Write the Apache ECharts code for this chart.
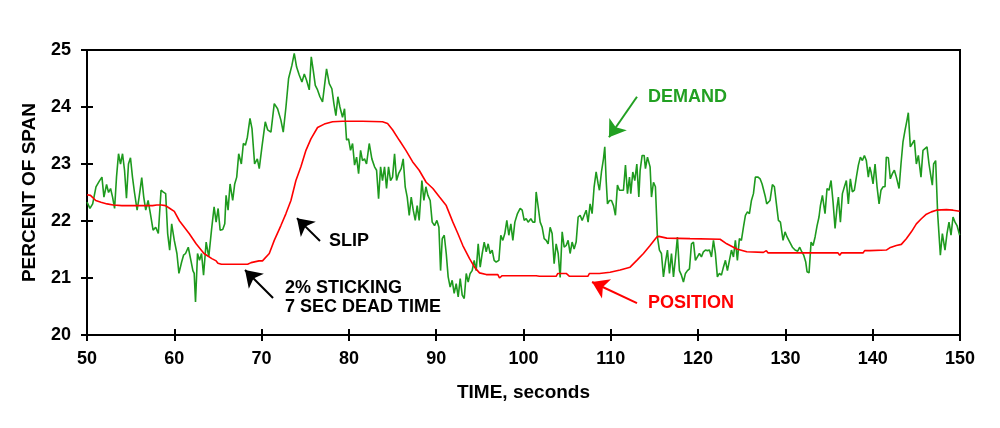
<!DOCTYPE html>
<html>
<head>
<meta charset="utf-8">
<script src="https://cdn.jsdelivr.net/npm/echarts@6/dist/echarts.min.js"></script>
<style>html,body{margin:0;padding:0;background:#fff}#c{width:1000px;height:428px}</style>
</head>
<body>
<div id="c"></div>
<script>
// ---- data ----
var xTicks = [50, 60, 70, 80, 90, 100, 110, 120, 130, 140, 150];
var yTicks = [20, 21, 22, 23, 24, 25];
var xName = 'TIME, seconds';
var yName = 'PERCENT OF SPAN';

// DEMAND: [time s, percent of span]
var demand = [
[50.0,22.33],[50.34,22.22],[50.65,22.3],[51.03,22.6],[51.41,22.7],[51.71,22.77],[51.94,22.42],[52.24,22.64],[52.47,22.5],[52.7,22.57],[52.93,22.42],[53.16,22.22],[53.38,22.77],[53.61,23.18],[53.84,23.0],[54.07,23.18],[54.3,22.89],[54.52,22.4],[54.75,23.0],[54.98,23.11],[55.21,22.77],[55.44,22.5],[55.74,22.19],[55.97,22.42],[56.27,22.76],[56.5,22.42],[56.73,22.19],[57.0,22.36],[57.26,22.13],[57.57,21.84],[57.87,21.89],[58.17,21.78],[58.48,22.54],[58.71,22.51],[59.01,22.48],[59.24,21.78],[59.47,21.49],[59.7,21.95],[60.0,21.66],[60.3,21.43],[60.53,21.08],[60.84,21.28],[61.06,21.4],[61.29,21.43],[61.6,21.54],[61.9,21.31],[62.13,21.13],[62.28,21.08],[62.43,20.58],[62.66,21.43],[62.89,21.31],[63.12,21.43],[63.35,21.05],[63.65,21.63],[63.95,21.37],[64.26,21.84],[64.56,22.25],[64.79,21.98],[65.02,22.22],[65.25,21.84],[65.55,21.85],[65.78,21.95],[65.93,22.45],[66.16,22.19],[66.39,22.65],[66.69,22.36],[66.92,22.65],[67.15,22.77],[67.38,23.18],[67.68,23.0],[67.91,23.36],[68.14,23.33],[68.37,23.47],[68.67,23.8],[68.9,23.62],[69.2,23.0],[69.51,23.09],[69.73,22.92],
[70.04,23.3],[70.42,23.74],[70.69,23.6],[71.07,23.56],[71.45,24.06],[71.83,23.97],[72.21,23.77],[72.48,23.56],[72.79,24.0],[73.09,24.5],[73.47,24.73],[73.74,24.94],[74.01,24.7],[74.31,24.56],[74.62,24.44],[74.89,24.58],[75.15,24.47],[75.46,24.3],[75.69,24.88],[75.92,24.64],[76.15,24.38],[76.41,24.3],[76.68,24.18],[76.98,24.09],[77.44,24.67],[77.75,24.41],[78.05,24.32],[78.28,24.06],[78.51,23.85],[78.74,24.18],[78.97,24.0],[79.27,23.82],[79.5,23.97],[79.73,23.42],[79.96,23.44],[80.19,23.24],[80.42,23.36],[80.65,22.98],[80.88,23.12],[81.11,22.83],[81.34,23.24],[81.56,23.06],[81.79,23.09],[82.02,23.0],[82.33,23.36],[82.63,23.09],[82.94,22.95],[83.17,22.89],[83.4,22.39],[83.63,22.95],[83.85,22.71],[84.08,22.95],[84.31,22.57],[84.54,22.95],[84.77,22.71],[85.0,22.77],[85.23,23.18],[85.46,22.71],[85.69,22.83],[85.99,22.92],[86.22,23.09],[86.45,22.6],[86.68,22.42],[86.91,22.1],[87.14,22.42],[87.37,22.19],[87.6,22.01],[87.82,22.27],[88.05,22.01],[88.36,22.71],[88.59,22.36],[88.82,22.6],[89.05,22.45],
[89.31,22.36],[89.54,21.98],[89.81,21.92],[90.08,22.01],[90.31,21.89],[90.5,21.13],[90.69,21.69],[90.92,21.75],[91.15,21.43],[91.37,21.02],[91.6,20.84],[91.83,20.96],[92.06,20.73],[92.29,20.9],[92.52,20.67],[92.75,20.99],[92.98,20.7],[93.21,20.64],[93.44,21.08],[93.66,20.93],[93.89,21.08],[94.12,21.13],[94.35,21.31],[94.58,21.13],[94.81,21.6],[95.04,21.19],[95.27,21.43],[95.5,21.63],[95.73,21.46],[95.95,21.6],[96.18,21.43],[96.41,21.49],[96.64,21.31],[96.87,21.28],[97.18,21.31],[97.4,21.75],[97.63,21.66],[97.86,21.78],[98.09,22.01],[98.32,21.75],[98.55,21.95],[98.78,21.66],[99.01,21.98],[99.31,22.13],[99.62,22.22],[99.85,22.19],[100.08,22.01],[100.31,22.04],[100.53,21.98],[100.84,22.04],[101.07,21.98],[101.3,21.98],[101.45,22.51],[101.68,22.25],[101.91,21.98],[102.14,21.89],[102.37,21.69],[102.6,21.66],[102.82,21.6],[103.05,21.89],[103.28,21.78],[103.51,21.25],[103.74,21.6],[103.97,21.43],[104.2,21.01],[104.43,21.81],[104.66,21.54],[104.89,21.57],[105.11,21.66],[105.34,21.43],[105.57,21.63],[105.8,21.51],[106.03,21.63],[106.26,22.07],[106.49,22.1],[106.72,22.01],[106.95,22.1],[107.18,22.19],[107.4,21.98],[107.63,22.3],[107.86,22.13],[108.09,22.6],[108.32,22.86],[108.55,22.65],[108.7,22.54],
[108.93,22.86],[109.16,23.09],[109.31,23.3],[109.47,22.71],[109.62,22.3],[109.85,22.36],[110.08,22.36],[110.31,22.27],[110.53,22.1],[110.76,22.63],[110.99,22.54],[111.22,22.54],[111.45,22.54],[111.68,22.98],[111.91,22.48],[112.14,22.77],[112.29,22.48],[112.52,22.86],[112.75,22.71],[112.98,23.0],[113.21,22.42],[113.36,22.89],[113.59,23.15],[113.82,23.15],[113.97,22.92],[114.2,23.12],[114.35,23.15],[114.5,22.95],[114.66,22.42],[114.89,22.68],[115.11,22.6],[115.34,21.72],[115.57,21.49],[115.8,21.43],[116.03,21.02],[116.26,21.28],[116.49,21.49],[116.72,21.08],[116.95,21.43],[117.18,21.02],[117.4,21.34],[117.63,21.72],[117.86,21.13],[118.09,21.05],[118.32,20.93],[118.55,21.08],[118.78,21.13],[119.01,21.16],[119.24,21.6],[119.47,21.63],[119.69,21.31],[119.92,21.37],[120.15,21.43],[120.38,21.37],[120.61,21.46],[120.84,21.49],[121.07,21.48],[121.3,21.49],[121.53,21.37],[121.76,21.66],[121.98,21.43],[122.21,21.02],[122.44,21.08],[122.67,21.05],[122.9,21.19],[123.13,21.31],[123.36,21.13],[123.59,21.31],[123.82,21.49],[124.05,21.37],[124.27,21.66],[124.5,21.31],[124.73,21.69],[124.96,21.66],[125.19,21.89],[125.42,22.1],[125.65,22.16],[125.88,22.13],[126.11,22.36],[126.34,22.48],[126.56,22.77],[126.87,22.77],[127.1,22.74],[127.33,22.65],[127.48,22.65],[127.71,22.42],[127.86,22.3],[128.24,22.36],
[128.51,22.64],[128.74,22.6],[128.97,22.3],[129.2,22.01],[129.43,21.98],[129.58,22.01],[129.73,21.66],[129.96,21.81],[130.19,21.72],[130.5,21.63],[130.8,21.54],[131.11,21.49],[131.41,21.47],[131.64,21.54],[131.87,21.46],[132.1,21.4],[132.33,21.28],[132.48,21.11],[132.71,21.09],[132.94,21.63],[133.17,21.57],[133.4,21.72],[133.63,21.92],[133.85,22.07],[134.01,22.27],[134.24,22.45],[134.54,22.13],[134.77,22.57],[135.0,22.54],[135.23,22.71],[135.46,22.33],[135.69,21.87],[135.92,22.25],[136.07,22.42],[136.3,21.98],[136.53,22.48],[136.76,22.6],[136.98,22.71],[137.21,22.3],[137.44,22.74],[137.67,22.51],[137.9,22.54],[138.13,22.77],[138.36,22.98],[138.59,23.12],[138.82,23.06],[139.05,23.15],[139.27,23.06],[139.5,22.77],[139.66,22.95],[139.81,22.86],[140.04,22.65],[140.27,23.0],[140.5,22.6],[140.73,22.3],[140.95,22.54],[141.18,22.6],[141.41,22.6],[141.56,23.12],[141.79,23.11],[142.02,22.74],[142.25,22.83],[142.48,22.89],[142.71,22.77],[143.02,22.57],[143.24,23.0],[143.47,23.39],[143.7,23.59],[143.93,23.77],[144.08,23.9],[144.31,23.3],[144.54,23.36],[144.77,23.42],[145.0,23.0],[145.23,23.15],[145.53,22.77],[145.76,23.24],[145.99,23.27],[146.22,23.3],[146.45,23.0],[146.68,22.77],[146.83,22.63],[146.98,23.0],[147.21,23.06],[147.44,22.13],[147.75,21.4],[147.98,21.78],[148.28,21.49],[148.51,21.78],[148.74,21.98],[148.97,21.75],[149.2,22.07],[149.43,21.98],[149.66,21.92],[149.96,21.75]
];

// POSITION: [time s, percent of span]
var position = [
[50.0,22.46],[50.4,22.45],[51.0,22.36],[51.6,22.33],[52.3,22.3],[53.0,22.28],[54.0,22.27],[57.5,22.27],[58.0,22.28],[58.5,22.28],[59.0,22.27],[59.5,22.22],[60.0,22.17],[60.6,22.0],[61.7,21.78],[62.5,21.6],[63.4,21.43],[64.3,21.34],[64.8,21.3],[65.0,21.26],[65.4,21.24],[68.4,21.24],[68.8,21.27],[69.7,21.3],[70.1,21.3],[70.88,21.43],[71.45,21.66],[72.21,21.92],[72.79,22.13],[73.36,22.36],[73.93,22.71],[74.5,22.95],[75.08,23.24],[75.65,23.44],[76.41,23.64],[77.18,23.7],[78.13,23.74],[79.27,23.75],[81.56,23.75],[83.85,23.74],[84.43,23.71],[85.0,23.6],[85.76,23.42],[86.53,23.24],[87.29,23.04],[88.05,22.89],[88.85,22.68],[89.62,22.57],[90.38,22.42],[91.15,22.27],[91.91,21.98],[92.48,21.78],[93.05,21.57],[93.82,21.34],[94.39,21.19],[94.96,21.09],[95.73,21.06],[97.06,21.06],[97.25,21.0],[97.56,21.04],[101.45,21.04],[101.64,21.07],[101.83,21.03],[103.74,21.03],[103.93,21.08],[104.89,21.08],[105.27,21.03],[107.37,21.03],[107.56,21.08],[108.7,21.08],[109.92,21.1],[111.07,21.14],[112.21,21.19],[112.98,21.31],[113.74,21.43],[114.5,21.57],[115.27,21.72],[115.5,21.73],[116.41,21.7],[119.08,21.69],[122.52,21.68],[123.28,21.6],[124.43,21.51],[125.57,21.46],[127.48,21.45],[127.82,21.48],[128.02,21.44],[136.03,21.44],[136.22,21.4],[136.41,21.44],[138.89,21.44],[139.08,21.48],[139.27,21.46],[139.66,21.48],[141.56,21.49],[141.95,21.53],[142.71,21.57],[143.28,21.59],[143.85,21.69],[144.43,21.81],[145.0,21.95],[145.57,22.04],[146.15,22.12],[146.72,22.16],[147.29,22.19],[148.44,22.2],[149.2,22.19],[149.96,22.17]
];

// annotations (data coordinates)
var noteTexts  = ['DEMAND', 'POSITION', 'SLIP', '2% STICKING', '7 SEC DEAD TIME'];
var noteAnchor = [[114.26, 24.18], [114.26, 20.56], [77.72, 21.65], [72.68, 20.82], [72.68, 20.49]];
var noteColor  = ['#22a022', '#ff0000', '#000000', '#000000', '#000000'];
var arrowFrom  = [[113.0, 24.18], [113.0, 20.56], [76.69, 21.65], [71.31, 20.65]];
var arrowTo    = [[109.79, 23.47], [107.85, 20.93], [74.05, 22.05], [68.1, 21.14]];
var arrowColor = ['#22a022', '#ff0000', '#000000', '#000000'];

var GREEN = '#1e9a1e', RED = '#ff0000';
var FONT = '"Liberation Sans", Arial, sans-serif';

var chart = echarts.init(document.getElementById('c'), null, {renderer: 'canvas'});

function baseX(inside) {
  return {
    type: 'value', min: xTicks[0], max: xTicks[xTicks.length - 1], interval: 10,
    position: 'bottom',
    axisLine: {show: !inside, onZero: false, lineStyle: {color: '#000', width: 2}},
    axisTick: {show: true, inside: inside, length: 6, lineStyle: {color: '#000', width: 2}},
    axisLabel: inside ? {show: false} : {show: true, color: '#000', fontFamily: FONT, fontWeight: 'bold', fontSize: 18, margin: 15},
    splitLine: {show: false},
    name: inside ? '' : xName, nameLocation: 'middle', nameGap: 48,
    nameTextStyle: {color: '#000', fontFamily: FONT, fontWeight: 'bold', fontSize: 19}
  };
}
function baseY(inside) {
  return {
    type: 'value', min: yTicks[0], max: yTicks[yTicks.length - 1], interval: 1,
    position: 'left',
    axisLine: {show: !inside, onZero: false, lineStyle: {color: '#000', width: 2}},
    axisTick: {show: true, inside: inside, length: 6, lineStyle: {color: '#000', width: 2}},
    axisLabel: inside ? {show: false} : {show: true, color: '#000', fontFamily: FONT, fontWeight: 'bold', fontSize: 18, margin: 16},
    splitLine: {show: false},
    name: inside ? '' : yName, nameLocation: 'middle', nameGap: 48, nameRotate: 90,
    nameTextStyle: {color: '#000', fontFamily: FONT, fontWeight: 'bold', fontSize: 19}
  };
}

var arrowData = arrowFrom.map(function (f, i) {
  return [{coord: f, lineStyle: {color: arrowColor[i]}, itemStyle: {color: arrowColor[i]}},
          {coord: arrowTo[i], lineStyle: {color: arrowColor[i]}, itemStyle: {color: arrowColor[i]}}];
});

chart.setOption({
  animation: false,
  backgroundColor: '#fff',
  grid: {left: 87, right: 40, top: 50, bottom: 93, show: true, borderColor: '#000', borderWidth: 2, backgroundColor: 'transparent'},
  xAxis: [baseX(false), baseX(true)],
  yAxis: [baseY(false), baseY(true)],
  series: [
    {name: 'DEMAND', type: 'line', data: demand, showSymbol: false, symbol: 'none',
     lineStyle: {color: GREEN, width: 1.6}, itemStyle: {color: GREEN}, z: 2,
     markLine: {silent: true, animation: false, symbol: ['none', 'arrow'], symbolSize: 16,
       label: {show: false}, lineStyle: {width: 2, type: 'solid'}, data: arrowData}},
    {name: 'POSITION', type: 'line', data: position, showSymbol: false, symbol: 'none',
     lineStyle: {color: RED, width: 1.6}, itemStyle: {color: RED}, z: 3}
  ]
});

var g = noteTexts.map(function (t, i) {
  var p = chart.convertToPixel({xAxisIndex: 0, yAxisIndex: 0}, noteAnchor[i]);
  return {type: 'text', x: p[0], y: p[1], z: 100,
    style: {text: t, fill: noteColor[i], font: 'bold 18px ' + FONT, textAlign: 'left', textVerticalAlign: 'middle', verticalAlign: 'middle'}};
});
chart.setOption({graphic: g});
</script>
</body>
</html>
